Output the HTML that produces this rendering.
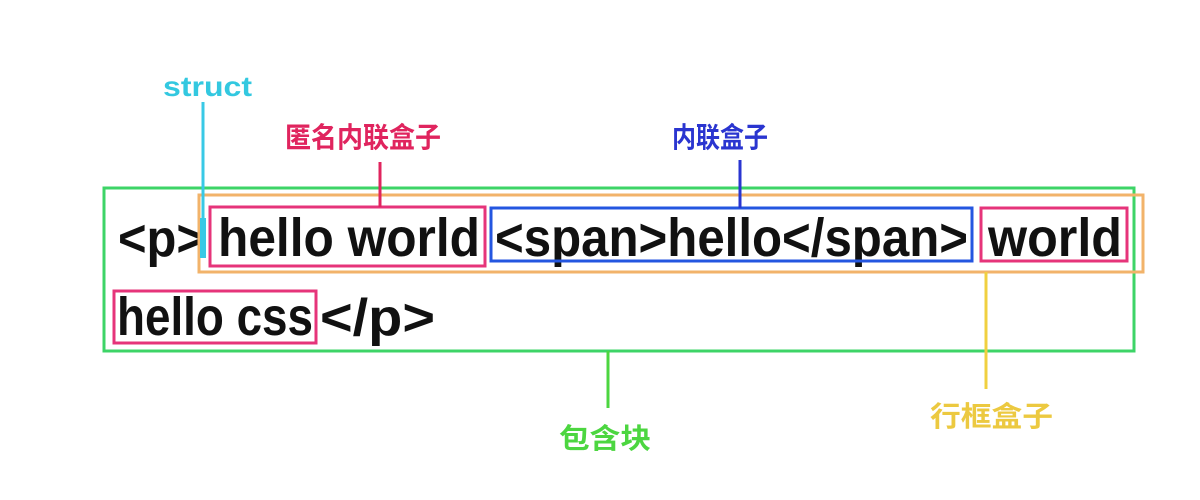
<!DOCTYPE html>
<html><head><meta charset="utf-8"><style>
html,body{margin:0;padding:0;background:#fff;width:1200px;height:500px;overflow:hidden}
</style></head><body>
<svg width="1200" height="500" viewBox="0 0 1200 500" xmlns="http://www.w3.org/2000/svg">
<g font-family="Liberation Sans, DejaVu Sans, sans-serif" font-weight="bold" fill="#111">
<text x="118" y="256" font-size="52" textLength="87" lengthAdjust="spacingAndGlyphs">&lt;p&gt;</text>
<text x="218" y="256" font-size="54" textLength="262" lengthAdjust="spacingAndGlyphs">hello world</text>
<text x="495" y="256" font-size="54" textLength="473" lengthAdjust="spacingAndGlyphs">&lt;span&gt;hello&lt;/span&gt;</text>
<text x="988" y="256" font-size="54" textLength="134" lengthAdjust="spacingAndGlyphs">world</text>
<text x="117" y="335" font-size="54" textLength="196" lengthAdjust="spacingAndGlyphs">hello css</text>
<text x="320" y="335" font-size="52" textLength="115" lengthAdjust="spacingAndGlyphs">&lt;/p&gt;</text>
</g>
<g fill="none">
<rect x="104" y="188" width="1030" height="163" stroke="#3dd467" stroke-width="3"/>
<rect x="199" y="195" width="944" height="77" stroke="#f2b36a" stroke-width="3"/>
<rect x="210" y="207" width="275" height="59" stroke="#e6347a" stroke-width="3"/>
<rect x="491" y="208" width="481" height="53" stroke="#2456e0" stroke-width="3"/>
<rect x="981" y="208" width="146" height="53" stroke="#e6347a" stroke-width="3"/>
<rect x="114" y="291" width="202" height="52" stroke="#e6347a" stroke-width="3"/>
<line x1="203" y1="102" x2="203" y2="240" stroke="#38c9e6" stroke-width="3"/>
<line x1="203" y1="218" x2="203" y2="258" stroke="#38c9e6" stroke-width="6"/>
<line x1="380" y1="162" x2="380" y2="207" stroke="#e0245e" stroke-width="3"/>
<line x1="740" y1="160" x2="740" y2="208" stroke="#2a35d0" stroke-width="3"/>
<line x1="608" y1="351" x2="608" y2="408" stroke="#4cd640" stroke-width="3"/>
<line x1="986" y1="272" x2="986" y2="389" stroke="#f0d040" stroke-width="3"/>
</g>
<g font-family="Liberation Sans, Noto Sans CJK SC, sans-serif" font-weight="bold">
<text x="163" y="96" font-size="28" fill="#33c8e0" textLength="89" lengthAdjust="spacingAndGlyphs">struct</text>
<text x="285" y="147" font-size="28" fill="#e0245e" textLength="156" lengthAdjust="spacingAndGlyphs">匿名内联盒子</text>
<text x="672" y="147" font-size="28" fill="#2a35d0" textLength="96" lengthAdjust="spacingAndGlyphs">内联盒子</text>
<text x="559" y="448" font-size="28" fill="#4cd640" textLength="92" lengthAdjust="spacingAndGlyphs">包含块</text>
<text x="930" y="426" font-size="28" fill="#ecc940" textLength="123" lengthAdjust="spacingAndGlyphs">行框盒子</text>
</g>
</svg>
</body></html>
